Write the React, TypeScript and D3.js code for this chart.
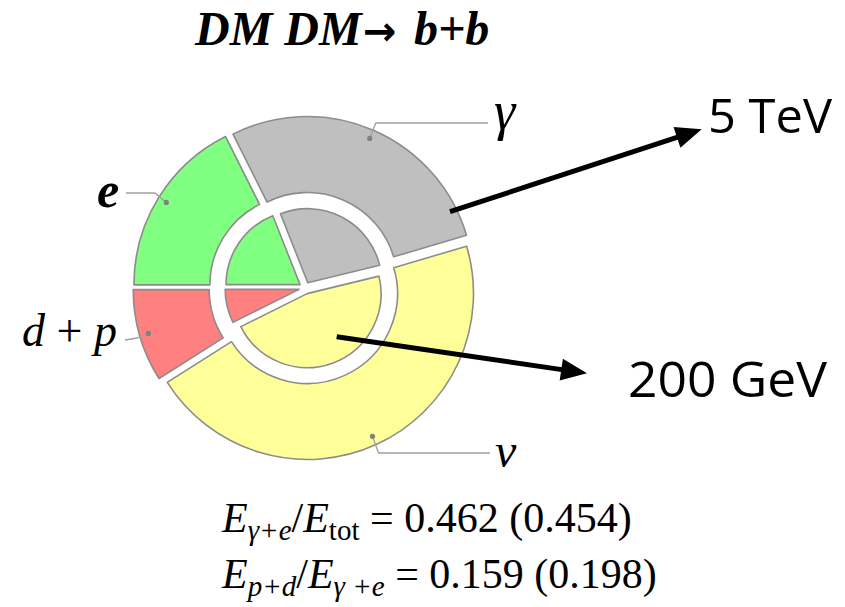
import React from 'react';
import * as d3 from 'd3';

// ---- data ----
const categories = ['e', 'γ', 'ν', 'd+p'];
const outer5TeV = [0.176, 0.278, 0.4561, 0.0899];
const inner200GeV = [0.19, 0.272, 0.4645, 0.0735];
const fillColors = ['#80ff80', '#bfbfbf', '#ffff99', '#ff8080'];
const ratioGammaE = ['0.462', '0.454'];
const ratioPD = ['0.159', '0.198'];
const energyLabels = ['5 TeV', '200 GeV'];
const titleParts = ['DM DM', '→', 'b+b'];

const W = 845, H = 607;
const cx = 305, cy = 288;
const R_OUT = 166, R_OUT_IN = 90, R_IN = 74;
const EXPLODE = 6;
const serif = '"Liberation Serif", "Times New Roman", serif';

function midAngle(a: any) { return (a.startAngle + a.endAngle) / 2; }
function offsetOf(a: any, d = EXPLODE) {
  const m = midAngle(a);
  return [Math.sin(m) * d, -Math.cos(m) * d];
}

function arrowHead(x0: number, y0: number, x1: number, y1: number, len = 26, half = 11) {
  const dx = x1 - x0, dy = y1 - y0;
  const L = Math.hypot(dx, dy);
  const ux = dx / L, uy = dy / L;
  const bx = x1 - ux * len, by = y1 - uy * len;
  const px = -uy, py = ux;
  return {
    line: [x0, y0, x1 - ux * (len - 4), y1 - uy * (len - 4)],
    poly: `${x1},${y1} ${bx + px * half},${by + py * half} ${bx - px * half},${by - py * half}`,
  };
}

export default function App() {
  const pie = d3.pie<number>().sort(null).startAngle(-Math.PI / 2).endAngle(1.5 * Math.PI);
  const outerArcs = pie(outer5TeV);
  const innerArcs = pie(inner200GeV);
  const outerArc = d3.arc<any>().innerRadius(R_OUT_IN).outerRadius(R_OUT);
  const innerArc = d3.arc<any>().innerRadius(0).outerRadius(R_IN);

  const dots = outerArcs.map((a) => {
    const m = midAngle(a);
    const r = R_OUT - 9 + EXPLODE;
    return [cx + Math.sin(m) * r, cy - Math.cos(m) * r];
  });

  const a1 = arrowHead(450, 211.7, 701.7, 129.3);
  const a2 = arrowHead(336.7, 336.7, 587, 373.3);

  const leaderStyle = { fill: 'none', stroke: '#a0a0a0', strokeWidth: 1.3 };

  return (
    <svg width={W} height={H} style={{ position: 'absolute', left: 0, top: 0, background: '#fff' }}>
      <text y={45} fontFamily={serif} fontWeight="bold" fontStyle="italic" fontSize={48} fill="#000">
        <tspan x={195}>{titleParts[0]}</tspan>
        <tspan x={363} fontFamily='"DejaVu Sans", sans-serif' fontStyle="normal" fontSize={40}>{titleParts[1]}</tspan>
        <tspan x={414}>{titleParts[2]}</tspan>
      </text>

      <g transform={`translate(${cx},${cy})`}>
        {outerArcs.map((a, i) => {
          const [ox, oy] = offsetOf(a);
          return (
            <path key={'o' + i} d={outerArc(a) as string} transform={`translate(${ox},${oy})`}
              fill={fillColors[i]} stroke="#8c8c8c" strokeWidth={1.6} strokeLinejoin="round" />
          );
        })}
        {innerArcs.map((a, i) => {
          const [ox, oy] = offsetOf(a);
          return (
            <path key={'i' + i} d={innerArc(a) as string} transform={`translate(${ox},${oy})`}
              fill={fillColors[i]} stroke="#8c8c8c" strokeWidth={1.6} strokeLinejoin="round" />
          );
        })}
      </g>

      {/* leaders */}
      <path d={`M126,193 L155,193 L${dots[0][0]},${dots[0][1]}`} {...leaderStyle} />
      <path d={`M${dots[1][0]},${dots[1][1]} L${dots[1][0] + 6},123 L488,123`} {...leaderStyle} />
      <path d={`M${dots[2][0]},${dots[2][1]} L${dots[2][0] + 6},453 L490,453`} {...leaderStyle} />
      <path d={`M125,340 L137,338 L${dots[3][0]},${dots[3][1]}`} {...leaderStyle} />
      {dots.map((d, i) => <circle key={'d' + i} cx={d[0]} cy={d[1]} r={2.6} fill="#808080" />)}

      {/* category labels */}
      <text x={97} y={207} fontFamily={serif} fontStyle="italic" fontWeight="bold" fontSize={50}>{categories[0]}</text>
      <text x={494} y={129} fontFamily={serif} fontStyle="italic" fontSize={54}>{categories[1]}</text>
      <text x={495} y={467} fontFamily={serif} fontStyle="italic" fontSize={48}>{categories[2]}</text>
      <text x={22} y={346} fontFamily={serif} fontSize={46}>
        <tspan fontStyle="italic">d</tspan>
        <tspan> + </tspan>
        <tspan fontStyle="italic">p</tspan>
      </text>

      {/* arrows */}
      <line x1={a1.line[0]} y1={a1.line[1]} x2={a1.line[2]} y2={a1.line[3]} stroke="#000" strokeWidth={5} />
      <polygon points={a1.poly} fill="#000" />
      <line x1={a2.line[0]} y1={a2.line[1]} x2={a2.line[2]} y2={a2.line[3]} stroke="#000" strokeWidth={5} />
      <polygon points={a2.poly} fill="#000" />

      <text x={708} y={133} fontFamily='"Open Sans", sans-serif' fontSize={48} fill="#000" textLength={124} lengthAdjust="spacingAndGlyphs">{energyLabels[0]}</text>
      <text x={628} y={397} fontFamily='"Open Sans", sans-serif' fontSize={49} fill="#000" textLength={199} lengthAdjust="spacingAndGlyphs">{energyLabels[1]}</text>

      {/* formulas */}
      <text x={222} y={532} fontFamily={serif} fontSize={42} fill="#000">
        <tspan fontStyle="italic">E</tspan>
        <tspan fontSize={29} dy={8} fontStyle="italic">γ+e</tspan>
        <tspan dy={-8}>/</tspan>
        <tspan fontStyle="italic">E</tspan>
        <tspan fontSize={29} dy={8}>tot</tspan>
        <tspan dy={-8}>{` = ${ratioGammaE[0]} (${ratioGammaE[1]})`}</tspan>
      </text>
      <text x={222} y={588} fontFamily={serif} fontSize={42} fill="#000">
        <tspan fontStyle="italic">E</tspan>
        <tspan fontSize={29} dy={8} fontStyle="italic">p+d</tspan>
        <tspan dy={-8}>/</tspan>
        <tspan fontStyle="italic">E</tspan>
        <tspan fontSize={29} dy={8} fontStyle="italic">γ +e</tspan>
        <tspan dy={-8}>{` = ${ratioPD[0]} (${ratioPD[1]})`}</tspan>
      </text>
    </svg>
  );
}
